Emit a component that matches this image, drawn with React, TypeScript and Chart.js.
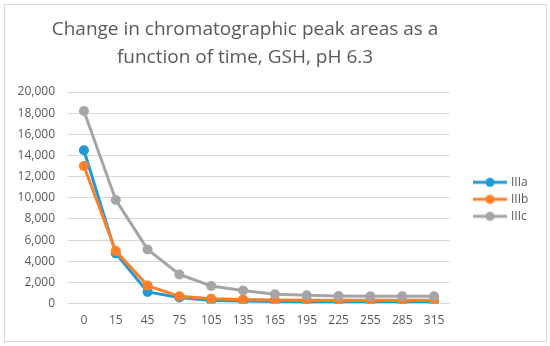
import React, { useEffect, useRef } from "react";
import { Chart, registerables } from "chart.js";

Chart.register(...registerables);

const categories = ["0", "15", "45", "75", "105", "135", "165", "195", "225", "255", "285", "315"];
const seriesIIIa = [14500, 4750, 1100, 570, 300, 250, 200, 150, 180, 180, 180, 180];
const seriesIIIb = [13000, 4960, 1700, 690, 450, 380, 330, 320, 310, 310, 310, 310];
const seriesIIIc = [18200, 9800, 5120, 2750, 1670, 1230, 880, 790, 720, 690, 690, 690];
const titleLines = ["Change in chromatographic peak areas as a", "function of time, GSH, pH 6.3"];

const colors = { IIIa: "#1F9AD6", IIIb: "#FF7F27", IIIc: "#A5A5A5" };
const textColor = "#595959";
const FONT = "Open Sans";

function makeLegendIcon(color: string): HTMLCanvasElement {
  const c = document.createElement("canvas");
  c.width = 58;
  c.height = 12;
  const ctx = c.getContext("2d")!;
  ctx.strokeStyle = color;
  ctx.lineWidth = 3;
  ctx.beginPath();
  ctx.moveTo(22, 6);
  ctx.lineTo(56, 6);
  ctx.stroke();
  ctx.fillStyle = color;
  ctx.beginPath();
  ctx.arc(39, 6, 4.5, 0, Math.PI * 2);
  ctx.fill();
  return c;
}

const titlePlugin = {
  id: "customTitle",
  afterDraw(chart: any) {
    const ctx = chart.ctx;
    ctx.save();
    ctx.fillStyle = textColor;
    ctx.font = `19px "${FONT}"`;
    ctx.textAlign = "center";
    ctx.textBaseline = "middle";
    ctx.fillText(titleLines[0], 245, 30);
    ctx.fillText(titleLines[1], 245, 58);
    ctx.restore();
  },
};

const legendPlugin = {
  id: "legendFix",
  beforeLayout(chart: any) {
    const lg = chart.legend;
    if (lg && !lg._patched) {
      const f = lg.fit.bind(lg);
      lg.fit = function () {
        f();
        this.width = 96;
      };
      lg._patched = true;
    }
  },
  afterLayout(chart: any) {
    const lg = chart.legend;
    if (lg) {
      lg.top = chart.chartArea.top + 3;
      lg.bottom = chart.chartArea.bottom;
      lg.height = lg.bottom - lg.top;
    }
  },
};

export default function App() {
  const ref = useRef<HTMLCanvasElement | null>(null);
  useEffect(() => {
    document.body.style.margin = "0";
    const icons: Record<string, HTMLCanvasElement> = {
      IIIa: makeLegendIcon(colors.IIIa),
      IIIb: makeLegendIcon(colors.IIIb),
      IIIc: makeLegendIcon(colors.IIIc),
    };
    const mk = (label: "IIIa" | "IIIb" | "IIIc", data: number[]) => ({
      label,
      data,
      borderColor: colors[label],
      backgroundColor: colors[label],
      borderWidth: 3,
      pointRadius: 5,
      pointHoverRadius: 5,
      pointBorderWidth: 0,
      tension: 0,
    });
    const chart = new Chart(ref.current!, {
      type: "line",
      data: {
        labels: categories,
        datasets: [mk("IIIc", seriesIIIc), mk("IIIb", seriesIIIb), mk("IIIa", seriesIIIa)],
      },
      plugins: [titlePlugin, legendPlugin],
      options: {
        animation: false,
        responsive: false,
        layout: { padding: { left: 8, right: 4, top: 92, bottom: 8 } },
        plugins: {
          title: { display: false },
          legend: {
            position: "right",
            reverse: true,
            labels: {
              usePointStyle: true,
              pointStyleWidth: 50,
              boxHeight: 10,
              padding: 5,
              color: textColor,
              font: { family: FONT, size: 12 },
              generateLabels: (ch: any) =>
                ch.data.datasets.map((ds: any, i: number) => ({
                  text: ds.label,
                  pointStyle: icons[ds.label],
                  fillStyle: ds.borderColor,
                  strokeStyle: ds.borderColor,
                  lineWidth: 0,
                  hidden: false,
                  datasetIndex: i,
                  fontColor: textColor,
                })),
            },
          },
          tooltip: { enabled: false },
        },
        scales: {
          x: {
            offset: true,
            grid: { display: false, drawTicks: false },
            border: { display: false },
            ticks: { color: textColor, font: { family: FONT, size: 12 }, padding: 10 },
          },
          y: {
            min: 0,
            max: 20000,
            border: { display: false },
            grid: { color: "#D9D9D9", drawTicks: false, lineWidth: 1 },
            afterFit: (s: any) => {
              s.width = 60;
            },
            ticks: {
              stepSize: 2000,
              color: textColor,
              font: { family: FONT, size: 12 },
              padding: 13,
              callback: (v: any) => Number(v).toLocaleString("en-US"),
            },
          },
        },
      },
    } as any);
    return () => chart.destroy();
  }, []);
  return (
    <div style={{ position: "relative", width: 550, height: 346, background: "#fff" }}>
      <canvas ref={ref} width={550} height={346} style={{ position: "absolute", left: 0, top: 0 }} />
      <div
        style={{
          position: "absolute",
          left: 4,
          top: 4,
          width: 541,
          height: 336,
          border: "1px solid #D9D9D9",
          pointerEvents: "none",
        }}
      />
    </div>
  );
}
